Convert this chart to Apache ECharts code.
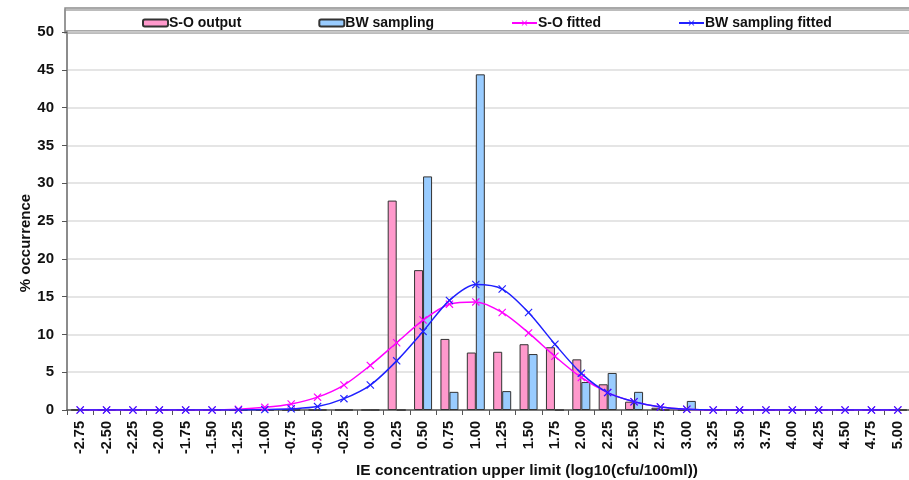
<!DOCTYPE html>
<html>
<head>
<meta charset="utf-8">
<script src="https://cdn.jsdelivr.net/npm/echarts@6/dist/echarts.min.js"></script>
<style>
  html, body { margin: 0; padding: 0; background: #fff; }
  #chart { width: 909px; height: 480px; }
</style>
</head>
<body>
<div id="chart"></div>
<script>
// x categories: log10 concentration bins
var categories = ['-2.75', '-2.50', '-2.25', '-2.00', '-1.75', '-1.50', '-1.25', '-1.00',
  '-0.75', '-0.50', '-0.25', '0.00', '0.25', '0.50', '0.75', '1.00', '1.25', '1.50',
  '1.75', '2.00', '2.25', '2.50', '2.75', '3.00', '3.25', '3.50', '3.75', '4.00',
  '4.25', '4.50', '4.75', '5.00'];

// bars
var soOutput = [0, 0, 0, 0, 0, 0, 0, 0, 0, 0, 0, 0, 27.7, 18.5, 9.4, 7.6, 7.7, 8.7,
  8.3, 6.7, 3.4, 1.1, 0.3, 0, 0, 0, 0, 0, 0, 0, 0, 0];
var bwSampling = [0, 0, 0, 0, 0, 0, 0, 0, 0, 0, 0, 0, 0, 30.9, 2.4, 44.4, 2.5, 7.4,
  0, 3.7, 4.9, 2.4, 0, 1.2, 0, 0, 0, 0, 0, 0, 0, 0];

// fitted curves
var soFitted = [0, 0, 0, 0, 0, 0, 0.1, 0.35, 0.8, 1.7, 3.3, 5.9, 8.9, 11.9, 14.0, 14.3,
  12.9, 10.2, 7.1, 4.3, 2.3, 1.1, 0.4, 0.1, 0, 0, 0, 0, 0, 0, 0, 0];
var bwFitted = [0, 0, 0, 0, 0, 0, 0, 0.05, 0.15, 0.45, 1.5, 3.3, 6.5, 10.4, 14.5, 16.6,
  16.0, 12.9, 8.7, 4.85, 2.3, 1.1, 0.4, 0.1, 0, 0, 0, 0, 0, 0, 0, 0];

var yTicks = { min: 0, max: 50, interval: 5 };

var font = 'Liberation Sans, Arial, sans-serif';
// x shaped marker, Excel style
var crossSymbol = 'path://M0,1 L1,0 L5,4 L9,0 L10,1 L6,5 L10,9 L9,10 L5,6 L1,10 L0,9 L4,5 Z';

var myChart = echarts.init(document.getElementById('chart'));
var option = {
  animation: false,
  textStyle: { fontFamily: font },
  // legend frame
  graphic: [{
    type: 'rect',
    shape: { x: 65, y: 8, width: 860, height: 23 },
    style: { fill: '#fff', stroke: '#8c8c8c', lineWidth: 1.5,
      shadowColor: 'rgba(0,0,0,0.35)', shadowOffsetY: 2, shadowBlur: 0 },
    z: -1
  }],
  legend: {
    left: 137,
    top: 11,
    itemWidth: 25,
    itemHeight: 7,
    itemGap: 77,
    textStyle: { fontFamily: font, fontWeight: 'bold', fontSize: 14, color: '#111', padding: [0, 0, 0, -4] },
    data: ['S-O output', 'BW sampling', 'S-O fitted', 'BW sampling fitted']
  },
  grid: { left: 67, top: 32, width: 844, bottom: 70, outerBoundsMode: 'none', containLabel: false },
  xAxis: {
    type: 'category',
    data: categories,
    boundaryGap: true,
    name: 'IE concentration upper limit (log10(cfu/100ml))',
    nameLocation: 'middle',
    nameGap: 53,
    nameMoveOverlap: false,
    nameTextStyle: { fontFamily: font, fontWeight: 'bold', fontSize: 15.5, color: '#111', padding: [0, 0, 0, 76] },
    axisLine: { lineStyle: { color: '#555', width: 1.5 } },
    axisTick: { show: true, length: 5, alignWithLabel: false, lineStyle: { color: '#555' } },
    axisLabel: { rotate: 90, margin: 11, interval: 0, fontWeight: 'bold', fontSize: 14.5, color: '#111' }
  },
  yAxis: {
    type: 'value',
    min: yTicks.min,
    max: yTicks.max,
    interval: yTicks.interval,
    name: '% occurrence',
    nameLocation: 'middle',
    nameGap: 34,
    nameMoveOverlap: false,
    nameTextStyle: { fontFamily: font, fontWeight: 'bold', fontSize: 15, color: '#111', padding: [0, 44, 0, 0] },
    axisLine: { show: true, lineStyle: { color: '#8c8c8c', width: 2 } },
    axisTick: { show: true, length: 5, lineStyle: { color: '#555' } },
    axisLabel: { margin: 13, fontWeight: 'bold', fontSize: 15, color: '#111' },
    splitLine: { lineStyle: { color: '#dcdcdc', width: 1.5 } }
  },
  series: [
    {
      name: 'S-O output',
      type: 'bar',
      data: soOutput,
      barWidth: 9,
      barGap: '0%',
      itemStyle: { color: '#ff99cc', borderColor: '#333', borderWidth: 1 }
    },
    {
      name: 'BW sampling',
      type: 'bar',
      data: bwSampling,
      barWidth: 9,
      barGap: '0%',
      itemStyle: { color: '#99ccff', borderColor: '#333', borderWidth: 1 }
    },
    {
      name: 'S-O fitted',
      type: 'line',
      data: soFitted,
      smooth: 0.3,
      symbol: crossSymbol,
      symbolSize: 8,
      lineStyle: { color: '#ff00ff', width: 1.5 },
      itemStyle: { color: '#ff00ff' }
    },
    {
      name: 'BW sampling fitted',
      type: 'line',
      data: bwFitted,
      smooth: 0.3,
      symbol: crossSymbol,
      symbolSize: 8,
      lineStyle: { color: '#2020ff', width: 1.5 },
      itemStyle: { color: '#2020ff' }
    }
  ]
};
myChart.setOption(option);
</script>
</body>
</html>
